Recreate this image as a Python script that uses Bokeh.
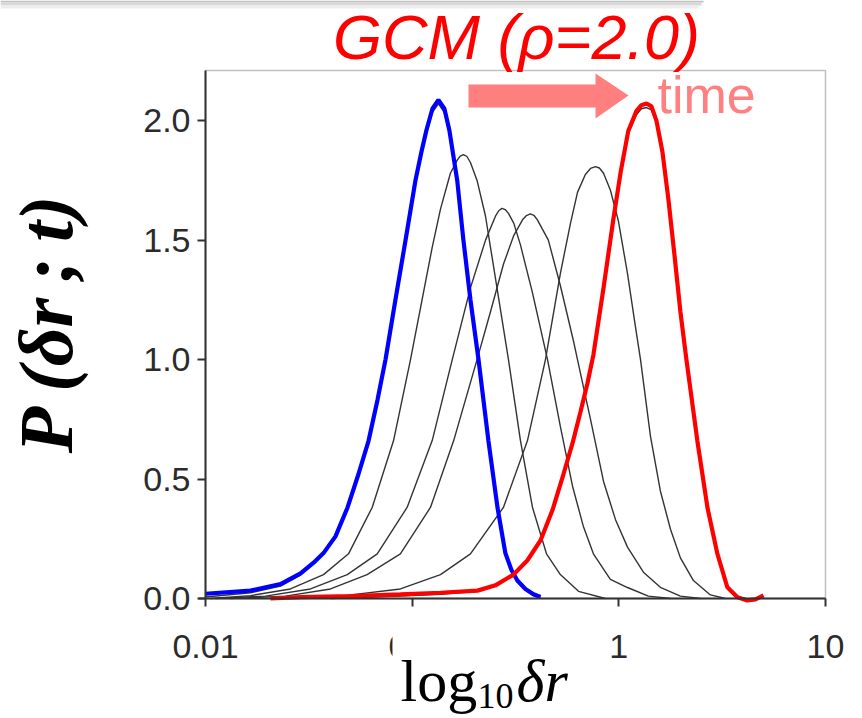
import numpy as np
from bokeh.plotting import figure
from bokeh.models import (FixedTicker, CustomJSTickFormatter, NumeralTickFormatter,
                          Label, PolyAnnotation, BoxAnnotation, Range1d)
from bokeh.embed import file_html
from bokeh.resources import INLINE

# ---- data (log10 of delta r, probability density) ----
x_ticks = [0.01, 0.1, 1, 10]
y_ticks = [0.0, 0.5, 1.0, 1.5, 2.0]

blue_logx = [-2.000, -1.782, -1.637, -1.540, -1.477, -1.429, -1.371, -1.313, -1.260, -1.211,
             -1.168, -1.129, -1.081, -1.032, -0.984, -0.955, -0.931, -0.902, -0.873, -0.844,
             -0.820, -0.782, -0.752, -0.718, -0.679, -0.631, -0.587, -0.549, -0.520, -0.491,
             -0.452, -0.413, -0.379]
blue_y = [0.02, 0.033, 0.06, 0.105, 0.15, 0.19, 0.26, 0.38, 0.52, 0.66,
          0.83, 1.0, 1.25, 1.5, 1.75, 1.87, 1.96, 2.05, 2.087, 2.05,
          1.96, 1.75, 1.5, 1.25, 1.0, 0.66, 0.38, 0.19, 0.12, 0.075,
          0.04, 0.018, 0.006]

k1_logx = blue_logx
k1_y = [0.006, 0.024, 0.052, 0.098, 0.145, 0.185, 0.255, 0.375, 0.515, 0.655,
        0.825, 0.995, 1.245, 1.495, 1.74, 1.86, 1.945, 2.035, 2.07, 2.035,
        1.945, 1.74, 1.495, 1.245, 0.995, 0.655, 0.38, 0.19, 0.115, 0.07,
        0.035, 0.012, 0.004]

k2_logx = [-1.976, -1.782, -1.589, -1.429, -1.308, -1.193, -1.090, -1.008, -0.903, -0.863,
           -0.815, -0.782, -0.767, -0.752, -0.735, -0.718, -0.686, -0.645, -0.621, -0.534,
           -0.476, -0.418, -0.350, -0.283, -0.195, -0.065]
k2_y = [0.0, 0.012, 0.04, 0.10, 0.187, 0.382, 0.661, 1.0, 1.47, 1.63,
        1.78, 1.835, 1.852, 1.858, 1.85, 1.825, 1.75, 1.6, 1.47, 1.0,
        0.661, 0.382, 0.187, 0.10, 0.03, 0.0]

k3_logx = [-1.952, -1.710, -1.492, -1.314, -1.169, -1.024, -0.903, -0.806, -0.718, -0.645,
           -0.597, -0.580, -0.565, -0.550, -0.534, -0.508, -0.476, -0.418, -0.345, -0.283,
           -0.224, -0.171, -0.123, -0.041, 0.042, 0.143, 0.250]
k3_y = [0.0, 0.01, 0.04, 0.10, 0.187, 0.382, 0.661, 1.0, 1.3, 1.5,
        1.6, 1.624, 1.633, 1.628, 1.612, 1.57, 1.48, 1.28, 1.0, 0.72,
        0.47, 0.3, 0.187, 0.08, 0.046, 0.01, 0.0]

k4_logx = [-1.879, -1.613, -1.395, -1.218, -1.057, -0.911, -0.799, -0.686, -0.621, -0.558,
           -0.508, -0.466, -0.447, -0.428, -0.411, -0.394, -0.341, -0.283, -0.220, -0.200,
           -0.137, -0.074, -0.016, 0.042, 0.119, 0.201, 0.298, 0.395]
k4_y = [0.0, 0.01, 0.04, 0.10, 0.187, 0.382, 0.661, 1.0, 1.2, 1.4,
        1.52, 1.585, 1.603, 1.61, 1.604, 1.585, 1.5, 1.31, 1.08, 1.0,
        0.75, 0.49, 0.33, 0.215, 0.11, 0.047, 0.01, 0.0]

k5_logx = [-1.637, -1.347, -1.057, -0.863, -0.718, -0.558, -0.442, -0.355, -0.283, -0.234,
           -0.200, -0.162, -0.137, -0.113, -0.094, -0.074, -0.041, -0.002, 0.042, 0.080,
           0.105, 0.153, 0.201, 0.250, 0.298, 0.361, 0.443, 0.516]
k5_y = [0.0, 0.01, 0.04, 0.10, 0.187, 0.382, 0.661, 1.0, 1.36, 1.57,
        1.70, 1.775, 1.800, 1.808, 1.802, 1.78, 1.71, 1.58, 1.36, 1.14,
        1.0, 0.68, 0.45, 0.29, 0.17, 0.075, 0.015, 0.0]

k6_logx = [-1.395, -1.057, -0.863, -0.684, -0.597, -0.510, -0.442, -0.379, -0.321, -0.268,
           -0.224, -0.186, -0.152, -0.123, -0.074, -0.026, 0.008, 0.046, 0.085, 0.109,
           0.134, 0.158, 0.182, 0.211, 0.240, 0.269, 0.298, 0.327, 0.380, 0.429,
           0.477, 0.525, 0.574, 0.612]
k6_y = [0.0, 0.01, 0.018, 0.03, 0.052, 0.097, 0.156, 0.238, 0.365, 0.515,
        0.645, 0.775, 0.895, 1.015, 1.29, 1.58, 1.77, 1.945, 2.025, 2.05,
        2.055, 2.045, 1.99, 1.86, 1.66, 1.43, 1.19, 0.99, 0.65, 0.37,
        0.18, 0.045, 0.008, 0.0]

red_logx = [-1.686, -1.540, -1.298, -1.057, -0.863, -0.684, -0.597, -0.510, -0.442, -0.379,
            -0.321, -0.268, -0.224, -0.186, -0.152, -0.123, -0.074, -0.026, 0.008, 0.046,
            0.085, 0.109, 0.134, 0.158, 0.182, 0.211, 0.240, 0.269, 0.298, 0.327,
            0.380, 0.429, 0.477, 0.525, 0.574, 0.622, 0.661, 0.700]
red_y = [0.0, 0.006, 0.01, 0.017, 0.024, 0.033, 0.055, 0.10, 0.16, 0.243,
         0.37, 0.52, 0.65, 0.78, 0.9, 1.02, 1.3, 1.59, 1.78, 1.958,
         2.04, 2.065, 2.072, 2.06, 2.00, 1.87, 1.67, 1.44, 1.2, 1.0,
         0.66, 0.38, 0.187, 0.047, 0.005, -0.008, -0.004, 0.013]

title_text = "GCM (ρ=2.0)"
time_text = "time"
ylabel_text = "P\u2009(δr\u2009;\u2009t)"

# ---- figure: frame fills the canvas, axes drawn at fixed data locations ----
W, H = 862, 718
p = figure(width=W, height=H, x_axis_type="log",
           x_range=Range1d(0.0010187, 15.104), y_range=Range1d(-0.50228, 2.50300),
           output_backend="svg", toolbar_location=None, min_border=0)
p.background_fill_color = "white"
p.border_fill_color = "white"
p.grid.visible = False
p.outline_line_color = None

for ax in (p.xaxis[0], p.yaxis[0]):
    ax.axis_line_color = "#333333"
    ax.axis_line_width = 2
    ax.major_tick_line_color = "#333333"
    ax.major_tick_line_width = 2
    ax.major_tick_in = 0
    ax.major_tick_out = 8
    ax.minor_tick_line_color = None
    ax.major_label_text_font = "Liberation Sans"
    ax.major_label_text_font_size = "34px"
    ax.major_label_text_color = "#2b2b2b"

p.xaxis.ticker = FixedTicker(ticks=x_ticks)
p.xaxis.formatter = CustomJSTickFormatter(code="return tick.toString();")
p.xaxis.major_label_standoff = 29
p.xaxis.fixed_location = 0.0
p.xaxis.bounds = (0.0093, 10)
p.yaxis.ticker = FixedTicker(ticks=y_ticks)
p.yaxis.formatter = NumeralTickFormatter(format="0.0")
p.yaxis.major_label_standoff = 7
p.yaxis.fixed_location = 0.01
p.yaxis.bounds = (0, 2.21)

# frame box
p.add_layout(BoxAnnotation(left=0.01, right=10, bottom=0, top=2.21,
                           fill_color=None, fill_alpha=0,
                           line_color="#333333", line_width=1.5))

def lx(v):
    return np.power(10.0, np.array(v))

for xs, ys in [(k1_logx, k1_y), (k2_logx, k2_y), (k3_logx, k3_y),
               (k4_logx, k4_y), (k5_logx, k5_y), (k6_logx, k6_y)]:
    p.line(lx(xs), ys, line_color="#333333", line_width=1.4)

p.line(lx(blue_logx), blue_y, line_color="#0000FF", line_width=4.2)
p.line(lx(red_logx), red_y, line_color="#FF0000", line_width=4.2)

# ---- annotations (screen units: px from canvas left / bottom) ----
def band(top, bottom, right, color):
    p.add_layout(BoxAnnotation(left=0, right=right, top=top, bottom=bottom,
                               left_units="screen", right_units="screen",
                               top_units="screen", bottom_units="screen",
                               fill_color=color, fill_alpha=1.0, line_color=None))

# faint grey shadow strip along the very top
band(718, 716, 703, "#c2c2c2")
band(716, 713, 701, "#d8d8d8")
band(713, 710, 698, "#ededed")

arrow = PolyAnnotation(xs=[468, 595, 595, 628, 595, 595, 468],
                       ys=[634, 634, 645, 623, 600, 611, 611],
                       xs_units="screen", ys_units="screen",
                       fill_color="#FF7F7F", fill_alpha=1.0, line_color=None)
p.add_layout(arrow)

p.add_layout(Label(x=516, y=682, x_units="screen", y_units="screen",
                   text=title_text, text_align="center", text_baseline="alphabetic",
                   text_font="Liberation Sans", text_font_style="italic",
                   text_font_size="63px", text_color="#FF0000"))

p.add_layout(Label(x=657, y=624, x_units="screen", y_units="screen",
                   text=time_text, text_align="left", text_baseline="alphabetic",
                   text_font="Liberation Sans", text_font_size="52px",
                   text_color="#FF8080"))

# y axis label
p.add_layout(Label(x=45, y=394, x_units="screen", y_units="screen",
                   text=ylabel_text, angle=np.pi / 2,
                   text_align="center", text_baseline="alphabetic",
                   text_font="Liberation Serif", text_font_style="bold italic",
                   text_font_size="76px", text_color="black"))

# white patch where the x label sits over the "0.1" tick label
p.add_layout(BoxAnnotation(left=392, right=480, top=92, bottom=20,
                           left_units="screen", right_units="screen",
                           top_units="screen", bottom_units="screen",
                           fill_color="white", fill_alpha=1.0, line_color=None))

# x axis label: log10 δr
p.add_layout(Label(x=400, y=38, x_units="screen", y_units="screen",
                   text="log", text_align="left", text_baseline="alphabetic",
                   text_font="Liberation Serif", text_font_size="60px",
                   text_color="black"))
p.add_layout(Label(x=477, y=23, x_units="screen", y_units="screen",
                   text="10", text_align="left", text_baseline="alphabetic",
                   text_font="Liberation Serif", text_font_size="36px",
                   text_color="black"))
p.add_layout(Label(x=516, y=38, x_units="screen", y_units="screen",
                   text="δr", text_align="left", text_baseline="alphabetic",
                   text_font="Liberation Serif", text_font_style="italic",
                   text_font_size="60px", text_color="black"))

open("out.html", "w").write(file_html(p, INLINE))
